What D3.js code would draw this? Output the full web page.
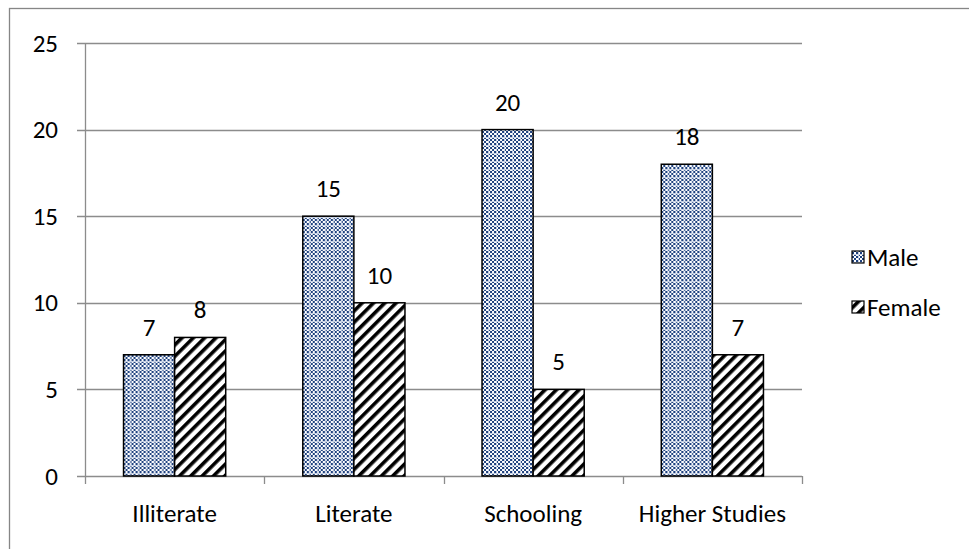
<!DOCTYPE html>
<html>
<head>
<meta charset="utf-8">
<script src="https://cdn.jsdelivr.net/npm/d3@7"></script>
<style>
  html, body { margin: 0; padding: 0; background: #fff; }
  svg text { font-family: Carlito, Lato, "Open Sans", sans-serif; fill: #000; }
</style>
</head>
<body>
<svg id="chart" width="969" height="549"></svg>
<script>
// Education level by gender
const categories = ["Illiterate", "Literate", "Schooling", "Higher Studies"];
const seriesNames = ["Male", "Female"];
const maleValues = [7, 15, 20, 18];
const femaleValues = [8, 10, 5, 7];
const yTicks = [0, 5, 10, 15, 20, 25];

const FONT_SIZE = "25px";
const svg = d3.select("#chart");
const margin = { left: 85, right: 167, top: 43, bottom: 73 };
const W = 969, H = 549;
const plotW = W - margin.left - margin.right;
const plotH = H - margin.top - margin.bottom;

// Fill patterns
const defs = svg.append("defs");
const dots = defs.append("pattern")
  .attr("id", "pat-male").attr("patternUnits", "userSpaceOnUse")
  .attr("width", 8).attr("height", 8);
dots.append("rect").attr("width", 8).attr("height", 8).attr("fill", "#fff");
for (let i = 0; i < 4; i++) {
  for (let j = 0; j < 4; j++) {
    if ((i + j) % 2 === 0) {
      dots.append("rect").attr("x", i * 2).attr("y", j * 2)
        .attr("width", 2).attr("height", 2).attr("fill", "#1f4280");
    }
  }
}
dots.append("rect").attr("x", 0).attr("y", 6).attr("width", 8).attr("height", 1).attr("fill", "#c8d2e4");
dots.append("rect").attr("x", 6).attr("y", 0).attr("width", 1).attr("height", 8).attr("fill", "#c8d2e4");

const stripes = defs.append("pattern")
  .attr("id", "pat-female").attr("patternUnits", "userSpaceOnUse")
  .attr("width", 8).attr("height", 8)
  .attr("patternTransform", "rotate(45)");
stripes.append("rect").attr("width", 8).attr("height", 8).attr("fill", "#fff");
stripes.append("rect").attr("x", 0).attr("y", 0).attr("width", 3.6).attr("height", 8).attr("fill", "#000");

const fills = ["url(#pat-male)", "url(#pat-female)"];

// Outer chart border
svg.append("rect").attr("x", 9.5).attr("y", 8.5)
  .attr("width", W + 10).attr("height", H + 10)
  .attr("fill", "none").attr("stroke", "#868686").attr("stroke-width", 1.3);

const g = svg.append("g").attr("transform", `translate(${margin.left},${margin.top})`);

const x0 = d3.scaleBand().domain(categories).range([0, plotW]).paddingInner(0.43).paddingOuter(0.215);
const x1 = d3.scaleBand().domain(seriesNames).range([0, x0.bandwidth()]);
const y = d3.scaleLinear().domain([0, 25]).range([plotH, 0]);

// Gridlines
g.append("g").selectAll("line").data(yTicks).join("line")
  .attr("x1", -8).attr("x2", plotW)
  .attr("y1", d => Math.round(y(d)) + 0.5).attr("y2", d => Math.round(y(d)) + 0.5)
  .attr("stroke", "#8c8c8c").attr("stroke-width", 1.3);

// Y axis
const yAxis = g.append("g").call(d3.axisLeft(y).tickValues(yTicks).tickSize(0).tickPadding(27));
yAxis.select(".domain").attr("stroke", "#8c8c8c").attr("stroke-width", 1.3);
yAxis.selectAll("text").style("font-size", FONT_SIZE).style("font-family", "Carlito, Lato, 'Open Sans', sans-serif");

// Category boundary ticks
const bounds = d3.range(categories.length + 1).map(i => i * plotW / categories.length);
g.append("g").selectAll("line").data(bounds).join("line")
  .attr("x1", d => Math.round(d) + 0.5).attr("x2", d => Math.round(d) + 0.5)
  .attr("y1", plotH).attr("y2", plotH + 8)
  .attr("stroke", "#8c8c8c").attr("stroke-width", 1.3);

// Category labels
g.append("g").selectAll("text").data(categories).join("text")
  .attr("x", d => x0(d) + x0.bandwidth() / 2)
  .attr("y", plotH + 46)
  .attr("text-anchor", "middle")
  .style("font-size", FONT_SIZE)
  .text(d => d);

// Bars
const rows = categories.map((c, i) => ({ cat: c, vals: [maleValues[i], femaleValues[i]] }));
const groups = g.append("g").selectAll("g").data(rows).join("g")
  .attr("transform", d => `translate(${x0(d.cat)},0)`);

groups.selectAll("rect").data(d => d.vals.map((v, k) => ({ s: seriesNames[k], v, k }))).join("rect")
  .attr("x", d => x1(d.s))
  .attr("y", d => y(d.v))
  .attr("width", x1.bandwidth())
  .attr("height", d => plotH - y(d.v))
  .attr("fill", d => fills[d.k])
  .attr("stroke", "#000").attr("stroke-width", 1.5);

// Value labels
groups.selectAll("text").data(d => d.vals.map((v, k) => ({ s: seriesNames[k], v }))).join("text")
  .attr("x", d => x1(d.s) + x1.bandwidth() / 2)
  .attr("y", d => y(d.v) - 19)
  .attr("text-anchor", "middle")
  .style("font-size", FONT_SIZE)
  .text(d => d.v);

// Legend
const legend = svg.append("g").attr("transform", "translate(852,0)");
const legY = [257, 307];
seriesNames.forEach((name, k) => {
  legend.append("rect").attr("x", 0).attr("y", legY[k] - 6)
    .attr("width", 12).attr("height", 12)
    .attr("fill", fills[k]).attr("stroke", "#000").attr("stroke-width", 1.2);
  legend.append("text").attr("x", 15).attr("y", legY[k] + 9)
    .style("font-size", FONT_SIZE).text(name);
});
</script>
</body>
</html>
